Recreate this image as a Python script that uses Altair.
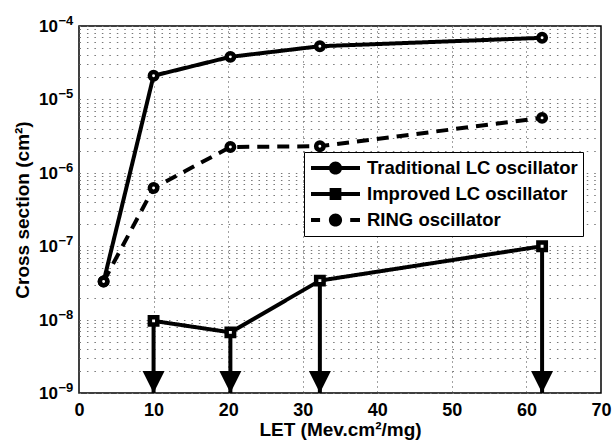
import altair as alt
import pandas as pd

# ---------------- data ----------------
series_names = ["Traditional LC oscillator", "Improved LC oscillator", "RING oscillator"]

trad_let = [3.3, 10.0, 20.3, 32.3, 62.1]
trad_cs = [3.3e-8, 2.1e-5, 3.8e-5, 5.3e-5, 6.9e-5]

imp_let = [10.0, 20.3, 32.3, 62.1]
imp_cs = [9.6e-9, 6.7e-9, 3.4e-8, 1.0e-7]

ring_let = [3.3, 10.0, 20.3, 32.3, 62.1]
ring_cs = [3.3e-8, 6.2e-7, 2.25e-6, 2.3e-6, 5.6e-6]

x_ticks = [0, 10, 20, 30, 40, 50, 60, 70]
y_exponents = [-9, -8, -7, -6, -5, -4]
y_floor = 1e-9

rows = []
for name, xs, ys in [(series_names[0], trad_let, trad_cs),
                     (series_names[1], imp_let, imp_cs),
                     (series_names[2], ring_let, ring_cs)]:
    for i, (a, b) in enumerate(zip(xs, ys)):
        rows.append({"series": name, "lg": name, "let": a, "cs": b, "order": i})
df = pd.DataFrame(rows)

y_grid = []
for e in y_exponents[:-1]:
    for m in range(1, 10):
        y_grid.append(m * 10.0 ** e)
y_grid.append(10.0 ** y_exponents[-1])

ylab_df = pd.DataFrame({
    "cs": [10.0 ** e for e in y_exponents],
    "base": ["10"] * len(y_exponents),
    "exp": ["\u2212" + str(abs(e)) for e in y_exponents],
})

FONT = "Liberation Sans"

# legend glyphs (filled outlines: line bar + marker), unit box [-1, 1]
BAR = "M-1,-0.08L1,-0.08L1,0.08L-1,0.08Z"
CIRC = "M0.27,0A0.27,0.27,0,1,1,-0.27,0A0.27,0.27,0,1,1,0.27,0Z"
SQR = "M-0.24,-0.24L0.24,-0.24L0.24,0.24L-0.24,0.24Z"
DASHES = "M-1,-0.08L-0.63,-0.08L-0.63,0.08L-1,0.08ZM0.6,-0.08L1,-0.08L1,0.08L0.6,0.08Z"
legend_paths = [BAR + CIRC, BAR + SQR, DASHES + CIRC]

x_axis = alt.Axis(values=x_ticks, grid=True, gridDash=[1, 4], gridColor="#444",
                  gridWidth=1, ticks=False, domain=False,
                  labelFont=FONT, labelFontSize=18, labelFontWeight="bold",
                  labelColor="black", labelPadding=8, labelFlush=False,
                  title="LET (Mev.cm\u00b2/mg)", titleFont=FONT, titleFontSize=19,
                  titleFontWeight="bold", titleColor="black", titlePadding=1)
y_axis = alt.Axis(values=y_grid, grid=True, gridDash=[1.5, 5.96], gridColor="#777",
                  gridWidth=1, ticks=False, domain=False, labels=False,
                  title="Cross section (cm\u00b2)", titleFont=FONT, titleFontSize=19,
                  titleFontWeight="bold", titleColor="black", titlePadding=47)

x_scale = alt.Scale(domain=[0, 70], nice=False)
y_scale = alt.Scale(type="log", domain=[1e-9, 1e-4], nice=False)

X = alt.X("let:Q", scale=x_scale, axis=x_axis)
Y = alt.Y("cs:Q", scale=y_scale, axis=y_axis)

base = alt.Chart(df)

lines = base.mark_line(strokeWidth=4, color="black").encode(
    x=X, y=Y,
    detail="series:N",
    order="order:Q",
    strokeDash=alt.StrokeDash("series:N",
                              scale=alt.Scale(domain=series_names,
                                              range=[[1, 0], [1, 0], [12, 8]]),
                              legend=None),
)

imp_only = base.transform_filter(alt.datum.series == series_names[1])

shafts = imp_only.mark_rule(strokeWidth=4, color="black").encode(
    x=X, y=Y, y2=alt.datum(y_floor)
)

heads = imp_only.mark_point(shape="M-1,-1L1,-1L0,1Z", size=484, filled=True,
                            color="black", opacity=1, yOffset=-11).encode(
    x=X, y=alt.datum(y_floor, scale=y_scale, axis=y_axis)
)

points = base.mark_point(filled=True, fill="white", stroke="black", strokeWidth=4.5,
                         size=55, opacity=1).encode(
    x=X, y=Y,
    shape=alt.Shape("series:N",
                    scale=alt.Scale(domain=series_names,
                                    range=["circle", "square", "circle"]),
                    legend=None),
)

legend_layer = base.mark_point(
    filled=True, fill="black", size=2401, opacity=0
).encode(
    x=X, y=Y,
    shape=alt.Shape("lg:N",
                    scale=alt.Scale(domain=series_names, range=legend_paths),
                    legend=alt.Legend(title=None, orient="none", legendX=225, legendY=126,
                                      symbolSize=2401, symbolStrokeWidth=0,
                                      symbolFillColor="black",
                                      symbolOpacity=1, symbolOffset=2,
                                      clipHeight=22, rowPadding=4, padding=5,
                                      labelOffset=7, labelLimit=400,
                                      labelFont=FONT, labelFontSize=18.5,
                                      labelFontWeight="bold", labelColor="black",
                                      strokeColor="black", fillColor="white")),
)

ylab_base = alt.Chart(ylab_df).mark_text(
    align="right", baseline="middle", font=FONT, fontSize=17, fontWeight="bold",
    color="black", dy=1
).encode(x=alt.value(-21), y=alt.Y("cs:Q", scale=y_scale, axis=y_axis), text="base:N")

ylab_exp = alt.Chart(ylab_df).mark_text(
    align="left", baseline="middle", font=FONT, fontSize=13, fontWeight="bold",
    color="black", dy=-5
).encode(x=alt.value(-20.5), y=alt.Y("cs:Q", scale=y_scale, axis=y_axis), text="exp:N")

chart = alt.layer(lines, shafts, heads, points, legend_layer, ylab_base, ylab_exp).resolve_scale(
    shape="independent", strokeDash="independent"
).resolve_legend(shape="independent").properties(
    width=522, height=367,
    autosize=alt.AutoSizeParams(type="none"),
    padding={"left": 79, "top": 26, "right": 11, "bottom": 47},
    background="white",
).configure_view(stroke="black", strokeWidth=1.5)

chart.save("out.html", embed_options={"renderer": "svg", "actions": False})
